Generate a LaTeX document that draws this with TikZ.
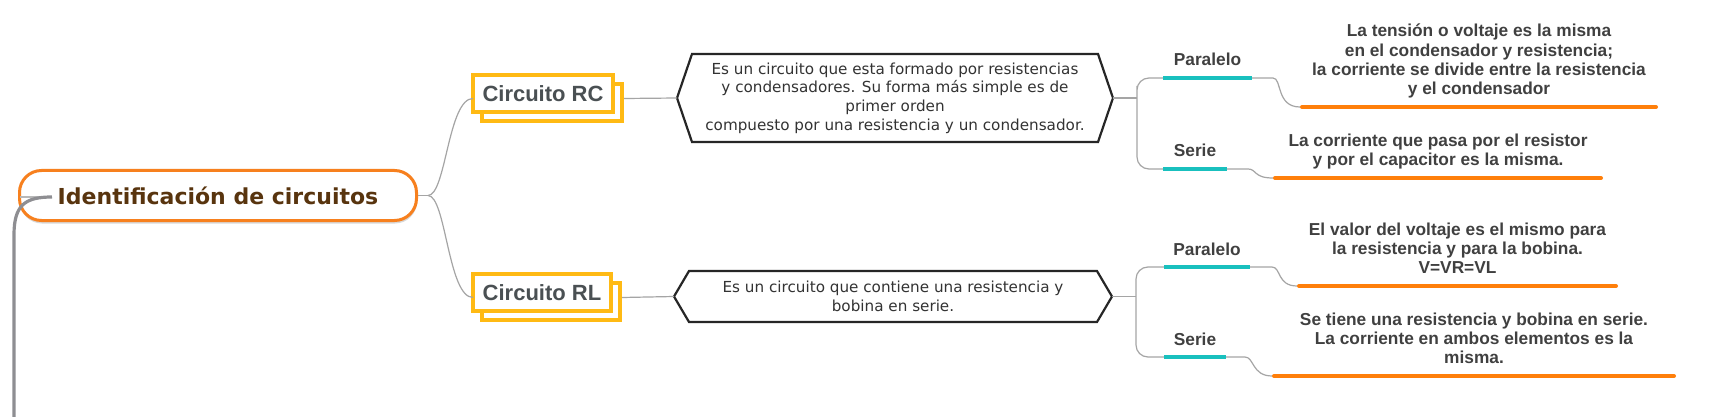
\documentclass[tikz,border=0pt]{standalone}
\usepackage{fontspec}
\setmainfont{Liberation Sans}
\newfontfamily\djv{DejaVu Sans}
\usetikzlibrary{shadows,backgrounds,calc}
\definecolor{rootorange}{RGB}{247,128,30}
\definecolor{rootbrown}{RGB}{88,52,14}
\definecolor{boxyellow}{RGB}{255,186,20}
\definecolor{slate}{RGB}{74,80,83}
\definecolor{tealc}{RGB}{25,192,190}
\definecolor{orangel}{RGB}{255,127,10}
\definecolor{conngray}{RGB}{165,165,165}
\definecolor{spinegray}{RGB}{142,142,146}
\definecolor{txtgray}{RGB}{64,64,64}
\tikzset{
  rootnode/.style={draw=rootorange, line width=3pt, fill=white, rounded corners=22pt,
    minimum width=397pt, minimum height=50pt, inner sep=0pt, text=rootbrown,
    font=\djv\bfseries\fontsize{22}{26}\selectfont,
    drop shadow={shadow xshift=0.5pt, shadow yshift=-3pt, opacity=0.3}},
  cbox/.style={draw=boxyellow, line width=4pt, fill=white, inner sep=0pt, outer sep=0pt,
    text=slate, font=\bfseries\fontsize{22}{26}\selectfont, minimum height=37pt},
  cback/.style={draw=boxyellow, line width=4pt, fill=white},
  hextext/.style={inner sep=0pt, outer sep=0pt, align=center,
    font=\djv\fontsize{15.2}{18.7}\selectfont, text=black!80},
  hexline/.style={draw=black!85, line width=2.2pt, line join=miter},
  topic/.style={anchor=south, inner sep=0pt, outer sep=0pt, text depth=12pt,
    text=txtgray, font=\bfseries\fontsize{17.3}{20}\selectfont},
  tealline/.style={draw=tealc, line width=3.5pt},
  content/.style={anchor=south, inner xsep=0pt, inner ysep=6.5pt, outer sep=0pt,
    align=center, text=txtgray, font=\bfseries\fontsize{17.3}{19.3}\selectfont},
  orangeline/.style={draw=orangel, line width=4pt, line cap=round},
  conn/.style={draw=conngray, line width=1.2pt},
  spine/.style={draw=spinegray, line width=3.2pt},
}
\begin{document}
\begin{tikzpicture}[x=1pt,y=-1pt]
\useasboundingbox (0,0) rectangle (1725,417);
% root
\node[rootnode] (root) at (218,195.5) {Identificación de circuitos};
% main topics
\node[cbox, minimum width=140pt] (rc) at (543,93.5) {Circuito RC};
\node[cbox, minimum width=138pt] (rl) at (542,292.5) {Circuito RL};
\begin{scope}[on background layer]
  \fill[white] (0,0) rectangle (1725,417);
  \draw[cback] ([shift={(9,9)}]rc.north west) rectangle ([shift={(9,9)}]rc.south east);
  \draw[cback] ([shift={(9,9)}]rl.north west) rectangle ([shift={(9,9)}]rl.south east);
\end{scope}
% hexagons
\node[hextext, minimum width=436pt, minimum height=88pt] (hexrc) at (895,98)
  {Es un circuito que esta formado por resistencias\\
   y condensadores. Su forma más simple es de\\
   primer orden\\
   compuesto por una resistencia y un condensador.};
\draw[hexline] (hexrc.west) -- ([xshift=15pt]hexrc.north west) -- ([xshift=-15pt]hexrc.north east)
  -- (hexrc.east) -- ([xshift=-15pt]hexrc.south east) -- ([xshift=15pt]hexrc.south west) -- cycle;
\node[hextext, minimum width=438pt, minimum height=51pt] (hexrl) at (893,296.5)
  {Es un circuito que contiene una resistencia y \\
   bobina en serie.};
\draw[hexline] (hexrl.west) -- ([xshift=15pt]hexrl.north west) -- ([xshift=-15pt]hexrl.north east)
  -- (hexrl.east) -- ([xshift=-15pt]hexrl.south east) -- ([xshift=15pt]hexrl.south west) -- cycle;
% sub topics
\node[topic, minimum width=89pt] (p1) at (1207.5,78) {Paralelo};
\node[topic, minimum width=64pt] (s1) at (1195,169) {Serie};
\node[topic, minimum width=86pt] (p2) at (1207,267) {Paralelo};
\node[topic, minimum width=62pt] (s2) at (1195,357) {Serie};
% contents
\node[content, minimum width=358pt] (t1) at (1479,107)
  {\strut La tensión o voltaje es la misma\\\strut en el condensador y resistencia;\\\strut la corriente se divide entre la resistencia\\\strut y el condensador};
\node[content, minimum width=330pt] (t2) at (1438,178)
  {\strut La corriente que pasa por el resistor\\\strut y por el capacitor es la misma.};
\node[content, minimum width=321pt] (t3) at (1457.5,286)
  {\strut El valor del voltaje es el mismo para\\\strut la resistencia y para la bobina.\\\strut V=VR=VL};
\node[content, minimum width=404pt] (t4) at (1474,376)
  {\strut Se tiene una resistencia y bobina en serie.\\\strut La corriente en ambos elementos es la\\\strut misma.};
% connectors root -> main topics
\coordinate (rj) at ([xshift=10pt]root.east);
\draw[conn] (root.east) -- (rj);
\draw[conn] (rj) .. controls +(18,0) and +(-25,0) .. ([yshift=-5pt]rc.west);
\draw[conn] (rj) .. controls +(18,0) and +(-25,0) .. ([yshift=-5pt]rl.west);
\draw[conn] ([shift={(11,5)}]rc.east) -- (hexrc.west);
\draw[conn] ([shift={(11,5)}]rl.east) -- (hexrl.west);
% hexagon -> sub topics
\coordinate (j1) at ([xshift=24pt]hexrc.east);
\draw[conn] (hexrc.east) -- (j1);
\draw[conn, rounded corners=12pt] (p1.south west) -| (j1) |- (s1.south west);
\coordinate (j2) at ([xshift=24pt]hexrl.east);
\draw[conn] (hexrl.east) -- (j2);
\draw[conn, rounded corners=12pt] (p2.south west) -| (j2) |- (s2.south west);
% sub topics -> contents
\draw[conn] (p1.south east) -- ++(21,0) .. controls +(9,0) and +(-24,0) .. (t1.south west);
\draw[conn] (s1.south east) -- ++(21,0) .. controls +(9,0) and +(-20,0) .. (t2.south west);
\draw[conn] (p2.south east) -- ++(22,0) .. controls +(9,0) and +(-20,0) .. (t3.south west);
\draw[conn] (s2.south east) -- ++(19,0) .. controls +(9,0) and +(-20,0) .. (t4.south west);
% underlines
\draw[tealline] (p1.south west) -- (p1.south east);
\draw[tealline] (s1.south west) -- (s1.south east);
\draw[tealline] (p2.south west) -- (p2.south east);
\draw[tealline] (s2.south west) -- (s2.south east);
\draw[orangeline] ([xshift=2pt]t1.south west) -- ([xshift=-2pt]t1.south east);
\draw[orangeline] ([xshift=2pt]t2.south west) -- ([xshift=-2pt]t2.south east);
\draw[orangeline] ([xshift=2pt]t3.south west) -- ([xshift=-2pt]t3.south east);
\draw[orangeline] ([xshift=2pt]t4.south west) -- ([xshift=-2pt]t4.south east);
% left spine
\coordinate (down) at (14,425);
\draw[draw=black!28, line width=1pt] ([shift={(2,1.5)}]root.west) -- ++(32,0);
\draw[spine] ([shift={(34,1.5)}]root.west) .. controls +(-27,0) and (14,205) .. (14,235) -- (down);
\end{tikzpicture}
\end{document}
